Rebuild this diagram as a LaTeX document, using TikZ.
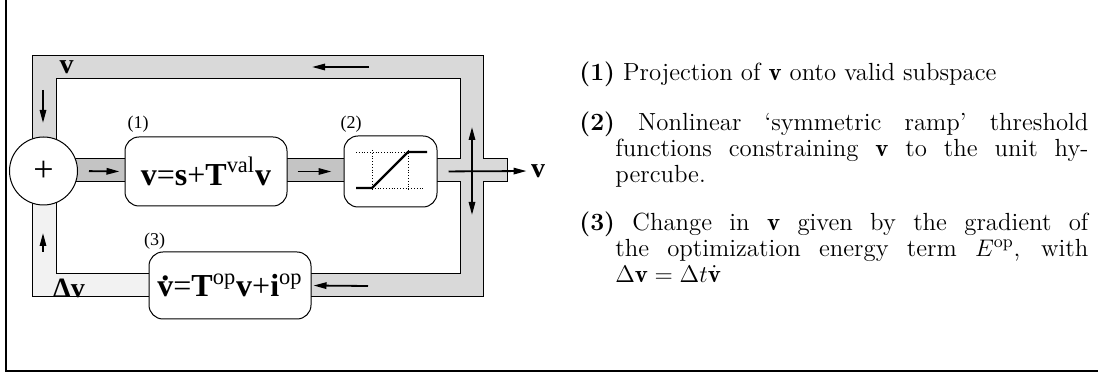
\documentclass[tikz,border=0pt]{standalone}
\usepackage{fontspec}
\usepackage{amsmath}
\usepackage{tikz}
\usetikzlibrary{arrows.meta,positioning}
\newfontfamily\diagfont{Liberation Serif}
\definecolor{pipelight}{gray}{0.85}
\definecolor{pipedark}{gray}{0.77}
\definecolor{pipepale}{gray}{0.95}
\newcommand{\dotv}{\ooalign{\textbf{v}\cr\hidewidth\raisebox{0.5em}{\textbf{.}}\hidewidth\cr}}

\begin{document}
\begin{tikzpicture}[
  x=0.5pt, y=-0.5pt,
  every node/.style={font=\diagfont},
  flow/.style={-{Triangle[length=6.5pt,width=3.2pt]}, line width=0.9pt},
  pipe/.style={draw, line width=0.5pt},
  block/.style={draw, rounded corners=7pt, fill=white, line width=0.5pt},
  tag/.style={font=\diagfont\fontsize{9}{9}\selectfont, inner sep=0.5pt},
  sig/.style={font=\diagfont\fontsize{14}{14}\selectfont\bfseries, inner sep=0pt},
  expr/.style={font=\diagfont\fontsize{16}{16}\selectfont},
  note/.style={font=\normalfont\fontsize{12.4}{13}\selectfont, text width=254.5pt,
    anchor=north west, inner sep=0pt, align=justify}
]
\useasboundingbox (0,0) rectangle (1098,373);
\draw[line width=0.6pt] (6,0) -- (6,371) -- (1098,371);

% pipes
\path[pipe, fill=pipelight] (32,150) -- (32,56) -- (483,56) -- (483,159) -- (507,159) -- (507,182)
  -- (483,182) -- (483,297) -- (300,297) -- (300,274) -- (460,274) -- (460,182) -- (430,182)
  -- (430,159) -- (460,159) -- (460,79) -- (56,79) -- (56,150) -- cycle;
\path[pipe, fill=pipepale] (32,190) -- (32,297) -- (160,297) -- (160,274) -- (56,274) -- (56,190) -- cycle;
\path[pipe, fill=pipedark] (70,159) rectangle (130,182);
\path[pipe, fill=pipedark] (280,159) rectangle (350,182);

% blocks
\node[draw, circle, fill=white, minimum size=34pt, inner sep=0pt, line width=0.5pt,
      font=\diagfont\fontsize{18}{18}\selectfont] (sum) at (43.5,171) {+};
\node[block, minimum width=81pt, minimum height=34.5pt, expr] (proj) at (206,171.5)
  {\textbf{v}=\textbf{s}+\textbf{T}\textsuperscript{val}\textbf{v}};
\node[block, minimum width=46.5pt, minimum height=35.5pt] (ramp) at (390.5,171.5) {};
\node[block, minimum width=81pt, minimum height=33.5pt, expr] (grad) at (230,285.5)
  {\dotv=\textbf{T}\textsuperscript{op}\textbf{v}+\textbf{i}\textsuperscript{op}};

% ramp curve
\draw[densely dotted, line width=0.4pt] (356,152) -- (408,152) (372,150) -- (372,190)
  (408,150) -- (408,190) (372,188) -- (423,188);
\draw[line width=1.2pt] (356,188) -- (372,188) -- (408,152) -- (427,152);

\node[tag] (tag1) at (138,124) {(1)};
\node[tag] (tag2) at (351,124) {(2)};
\node[tag] (tag3) at (154.5,241) {(3)};

\node[sig] (vtop) at (66.5,67) {v};
\node[sig] (dv) at (69,288) {Δv};
\node[sig] (vout) at (538,171) {v};

% arrows
\coordinate (topR) at (369,67);
\coordinate (topL) at (312,67);
\coordinate (leftU) at (43,90);
\coordinate (leftD) at (43,123);
\coordinate (lowB) at (43,252);
\coordinate (lowT) at (43,233);
\coordinate (botR) at (368,286);
\coordinate (crossU) at (472,127);
\coordinate (crossD) at (472,215);
\draw[flow] (topR) -- (topL);
\draw[flow] (leftU) -- (leftD);
\draw[flow] (lowB) -- (lowT);
\draw[flow, shorten >=1pt] (botR) -- (grad.east);
\draw[flow, shorten <=5.5pt, shorten >=2.5pt] (sum.east) -- (proj.west);
\draw[flow, shorten <=5pt, shorten >=6pt] (proj.east) -- (ramp.west);
\draw[flow, shorten <=5.5pt, shorten >=2pt] (ramp.east) -- (vout.west);
\draw[{Triangle[length=6.5pt,width=3.2pt]}-{Triangle[length=6.5pt,width=3.2pt]}, line width=0.9pt] (crossU) -- (crossD);

% legend
\node[note] (item1) at (579,61.5) {\hangindent=18pt\hangafter=1
  \textbf{(1)} Projection of $\mathbf{v}$ onto valid subspace\par};
\node[note] (item2) at (579,111.5) {\hangindent=18pt\hangafter=1
  \textbf{(2)} Nonlinear `symmetric ramp' threshold\linebreak
  functions constraining $\mathbf{v}$ to the unit hy-\linebreak percube.\par};
\node[note] (item3) at (579,211.5) {\hangindent=18pt\hangafter=1
  \textbf{(3)} Change in $\mathbf{v}$ given by the gradient of\linebreak
  the optimization energy term $E^{\mathrm{op}}$, with\linebreak
  $\Delta\mathbf{v}=\Delta t\dot{\mathbf{v}}$\par};
\end{tikzpicture}
\end{document}
